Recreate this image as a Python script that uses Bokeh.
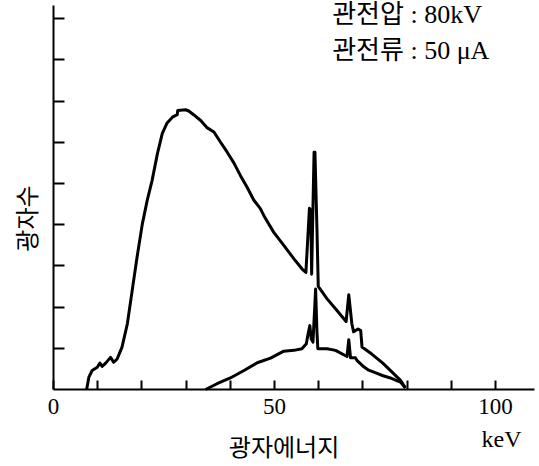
import math
from bokeh.plotting import figure
from bokeh.models import Range1d, FixedTicker, Label
from bokeh.embed import file_html
from bokeh.resources import INLINE

# Spectrum without filtration (photon energy keV, photon count in tick units)
energy_unfiltered = [7.5, 8.0, 8.75, 9.9, 10.5, 11.0, 11.8, 12.9, 13.6, 14.4, 15.5, 16.7,
                     17.8, 18.9, 20.1, 21.2, 22.3, 23.5, 24.6, 25.7, 26.9, 28.0, 28.1, 29.9,
                     30.6, 31.7, 33.3, 34.8, 36.3, 37.8, 39.3, 40.8, 42.3, 43.8, 45.3, 46.8,
                     47.6, 49.8, 52.1, 54.4, 56.2, 57.1, 57.9, 58.2, 58.4, 58.6, 58.95, 59.15,
                     59.6, 59.9, 60.3, 61.9, 63.8, 66.2, 66.8, 67.5, 67.9, 68.9, 69.5, 69.8,
                     72.0, 74.5, 76.6, 78.5, 79.6]
count_unfiltered = [0.0, 0.30, 0.46, 0.54, 0.64, 0.56, 0.64, 0.78, 0.66, 0.74, 1.03, 1.59,
                    2.40, 3.21, 4.02, 4.59, 5.07, 5.72, 6.21, 6.47, 6.61, 6.67, 6.77, 6.79,
                    6.76, 6.67, 6.53, 6.35, 6.25, 6.00, 5.76, 5.50, 5.19, 4.91, 4.60, 4.39,
                    4.22, 3.82, 3.50, 3.17, 2.93, 2.84, 4.40, 4.35, 2.80, 3.90, 5.76, 5.76,
                    3.90, 2.50, 2.44, 2.20, 1.96, 1.65, 2.30, 1.59, 1.40, 1.47, 1.43, 1.03,
                    0.86, 0.64, 0.42, 0.22, 0.04]

# Spectrum with filtration
energy_filtered = [34.4, 37.0, 40.0, 43.1, 46.1, 49.1, 52.1, 54.4, 56.2, 57.2, 57.6, 58.0,
                   58.3, 58.7, 59.1, 59.3, 59.6, 59.8, 61.9, 63.8, 66.4, 66.8, 67.2, 68.3,
                   68.7, 70.2, 71.3, 73.2, 74.4, 76.2, 77.4, 78.5, 79.6]
count_filtered = [0.0, 0.14, 0.28, 0.46, 0.65, 0.76, 0.93, 0.95, 0.99, 1.11, 1.35, 1.55,
                  1.23, 1.15, 2.00, 2.44, 1.40, 0.99, 0.99, 0.95, 0.80, 1.21, 0.77, 0.77,
                  0.70, 0.55, 0.47, 0.39, 0.34, 0.28, 0.23, 0.18, 0.04]

x_major_ticks = [0, 50, 100]
x_minor_ticks = [10, 20, 30, 40, 60, 70, 80, 90]
y_ticks = [1, 2, 3, 4, 5, 6, 7, 8, 9]
x_axis_extent = (0, 108.8)
y_axis_extent = (0, 9.32)

x_title = "광자에너지"
y_title = "광자수"
unit_text = "keV"
note_lines = ["관전압 : 80kV", "관전류 : 50 μA"]

SERIF = "Liberation Serif"
KR_FONT = "Noto Sans CJK KR"
MIXED = "'Liberation Serif', 'Noto Sans CJK KR'"

# Plot area spans the whole canvas; axes are pinned at the data origin.
p = figure(width=539, height=466, output_backend="svg", toolbar_location=None,
           title=None,
           x_range=Range1d(-11.99, 109.95), y_range=Range1d(-1.869, 9.442),
           min_border_left=0, min_border_right=0, min_border_top=0,
           min_border_bottom=0)
p.outline_line_color = None
p.xgrid.visible = False
p.ygrid.visible = False
p.background_fill_color = "white"
p.border_fill_color = "white"

xa = p.xaxis[0]
xa.fixed_location = 0
xa.bounds = x_axis_extent
xa.ticker = FixedTicker(ticks=x_major_ticks, minor_ticks=x_minor_ticks)
xa.major_tick_in = 9
xa.major_tick_out = 0
xa.minor_tick_in = 9
xa.minor_tick_out = 0
xa.axis_line_width = 2
xa.major_tick_line_width = 2
xa.minor_tick_line_width = 2
xa.axis_line_color = "black"
xa.major_tick_line_color = "black"
xa.minor_tick_line_color = "black"
xa.major_label_text_font = SERIF
xa.major_label_text_font_size = "23px"
xa.major_label_text_color = "black"
xa.major_label_standoff = 10

ya = p.yaxis[0]
ya.fixed_location = 0
ya.bounds = y_axis_extent
ya.ticker = FixedTicker(ticks=y_ticks, minor_ticks=[])
ya.major_label_overrides = {t: "" for t in y_ticks}
ya.major_tick_in = 11
ya.major_tick_out = 0
ya.minor_tick_in = 0
ya.minor_tick_out = 0
ya.major_tick_line_width = 2
ya.major_tick_line_color = "black"
ya.axis_line_width = 2
ya.axis_line_color = "black"

p.line(energy_unfiltered, count_unfiltered, line_color="black", line_width=3,
       line_join="round")
p.line(energy_filtered, count_filtered, line_color="black", line_width=3,
       line_join="round")

p.add_layout(Label(x=-6.33, y=4.15, text=y_title, angle=math.pi / 2,
                   text_align="center", text_baseline="middle",
                   text_font=KR_FONT, text_font_size="24px", text_color="black"))
p.add_layout(Label(x=52.15, y=-1.36, text=x_title,
                   text_align="center", text_baseline="middle",
                   text_font=KR_FONT, text_font_size="24px", text_color="black"))
p.add_layout(Label(x=101.36, y=-1.21, text=unit_text,
                   text_align="center", text_baseline="middle",
                   text_font=SERIF, text_font_size="24px", text_color="black"))
note_y = [9.10, 8.23]
for line, ny in zip(note_lines, note_y):
    p.add_layout(Label(x=63.05, y=ny, text=line, text_align="left",
                       text_baseline="middle", text_font=MIXED,
                       text_font_size="26px", text_color="black"))

open("out.html", "w").write(file_html(p, INLINE))
